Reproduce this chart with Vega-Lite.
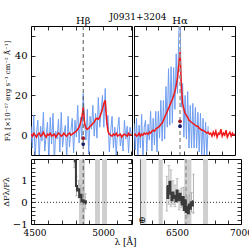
{
  "$schema": "https://vega.github.io/schema/vega-lite/v6.json",
  "padding": {"left": 1, "top": 12, "right": 5, "bottom": 0},
  "config": {
    "font": "DejaVu Serif",
    "view": {"stroke": "black", "strokeWidth": 1},
    "axis": {"grid": false, "domain": false, "tickColor": "black", "tickSize": -4, "tickWidth": 0.8, "labelFont": "DejaVu Serif", "labelFontSize": 10, "labelColor": "black", "labelPadding": 8, "labelFlush": false, "labelOverlap": false, "titleFont": "DejaVu Serif", "titleFontSize": 7, "titleFontWeight": "normal", "titleColor": "black", "titlePadding": 3},
    "concat": {"spacing": 0},
    "title": {"font": "DejaVu Serif", "fontSize": 9, "fontWeight": "normal", "color": "black"}
  },
  "title": {"text": "J0931+3204", "offset": -6, "anchor": "start", "frame": "bounds", "dx": 108},
  "datasets": {
    "blueL": [
      {"w":4475,"f":4.5},{"w":4485,"f":-6.5},{"w":4495,"f":10},{"w":4505,"f":-11},{"w":4515,"f":1},{"w":4525,"f":7.5},{"w":4535,"f":-12},{"w":4545,"f":4.5},{"w":4555,"f":-3},{"w":4565,"f":11.5},
      {"w":4575,"f":-8},{"w":4585,"f":0},{"w":4595,"f":6.5},{"w":4605,"f":-12},{"w":4615,"f":9},{"w":4625,"f":-4.5},{"w":4635,"f":11},{"w":4645,"f":-13.5},{"w":4655,"f":2},{"w":4665,"f":-2},
      {"w":4675,"f":8},{"w":4685,"f":-8.5},{"w":4695,"f":11.5},{"w":4705,"f":-6},{"w":4715,"f":1},{"w":4725,"f":5},{"w":4735,"f":-12.5},{"w":4745,"f":9.5},{"w":4755,"f":-6},{"w":4765,"f":2},
      {"w":4775,"f":8.5},{"w":4785,"f":-9},{"w":4795,"f":7.5},{"w":4805,"f":-1},{"w":4815,"f":15},{"w":4825,"f":-4},{"w":4835,"f":9},{"w":4845,"f":-2},{"w":4855,"f":21},{"w":4865,"f":7},
      {"w":4875,"f":-2.5},{"w":4885,"f":13},{"w":4895,"f":-9.5},{"w":4905,"f":9.5},{"w":4915,"f":3},{"w":4925,"f":15},{"w":4935,"f":-0.5},{"w":4945,"f":11},{"w":4955,"f":-1.5},{"w":4965,"f":19},
      {"w":4975,"f":4},{"w":4985,"f":12},{"w":4995,"f":20},{"w":5005,"f":4},{"w":5015,"f":23.5},{"w":5025,"f":5},{"w":5035,"f":10},{"w":5045,"f":-8.5},{"w":5055,"f":2},{"w":5065,"f":9.5},
      {"w":5075,"f":-6.5},{"w":5085,"f":4},{"w":5095,"f":-10},{"w":5105,"f":2.5},{"w":5115,"f":9},{"w":5125,"f":-5.5},{"w":5135,"f":0},{"w":5145,"f":-8},{"w":5155,"f":7.5},{"w":5165,"f":-2},
      {"w":5175,"f":4.5},{"w":5185,"f":-9},{"w":5195,"f":4},{"w":5205,"f":0.5}
    ],
    "redL": [
      {"w":4475,"f":0.5},{"w":4485,"f":-0.5},{"w":4495,"f":1},{"w":4505,"f":0},{"w":4515,"f":-1},{"w":4525,"f":0.5},{"w":4535,"f":1},{"w":4545,"f":-0.5},{"w":4555,"f":0},{"w":4565,"f":1.5},
      {"w":4575,"f":0},{"w":4585,"f":-1},{"w":4595,"f":0.5},{"w":4605,"f":0},{"w":4615,"f":1},{"w":4625,"f":-0.5},{"w":4635,"f":0},{"w":4645,"f":0.5},{"w":4655,"f":-1},{"w":4665,"f":0},
      {"w":4675,"f":1},{"w":4685,"f":0.5},{"w":4695,"f":-0.5},{"w":4705,"f":0},{"w":4715,"f":1},{"w":4725,"f":0},{"w":4735,"f":-0.5},{"w":4745,"f":0.5},{"w":4755,"f":1},{"w":4765,"f":0},
      {"w":4775,"f":0.5},{"w":4785,"f":1},{"w":4795,"f":1.5},{"w":4805,"f":2},{"w":4815,"f":3},{"w":4825,"f":4},{"w":4835,"f":6},{"w":4845,"f":9},{"w":4855,"f":14},{"w":4865,"f":6},
      {"w":4875,"f":3.5},{"w":4885,"f":3},{"w":4895,"f":3.5},{"w":4905,"f":4.5},{"w":4915,"f":5},{"w":4925,"f":6},{"w":4935,"f":6.5},{"w":4945,"f":8},{"w":4955,"f":8.5},{"w":4965,"f":8},
      {"w":4975,"f":9},{"w":4985,"f":11},{"w":4995,"f":13},{"w":5005,"f":16},{"w":5015,"f":17.5},{"w":5025,"f":8},{"w":5035,"f":2},{"w":5045,"f":0.5},{"w":5055,"f":0},{"w":5065,"f":-0.5},
      {"w":5075,"f":0.5},{"w":5085,"f":0},{"w":5095,"f":1},{"w":5105,"f":-0.5},{"w":5115,"f":0},{"w":5125,"f":0.5},{"w":5135,"f":-1},{"w":5145,"f":0},{"w":5155,"f":0.5},{"w":5165,"f":0},
      {"w":5175,"f":-0.5},{"w":5185,"f":1},{"w":5195,"f":0},{"w":5205,"f":0.5}
    ],
    "blueR": [
      {"w":6210,"f":6},{"w":6220,"f":-7.5},{"w":6230,"f":8.5},{"w":6240,"f":-11},{"w":6250,"f":5},{"w":6260,"f":-6.5},{"w":6270,"f":10.5},{"w":6280,"f":-12},{"w":6290,"f":4},{"w":6300,"f":7.5},
      {"w":6310,"f":-8},{"w":6320,"f":5.5},{"w":6330,"f":-2.5},{"w":6340,"f":12},{"w":6350,"f":-8},{"w":6360,"f":8.5},{"w":6370,"f":-5},{"w":6380,"f":12},{"w":6390,"f":-8.5},{"w":6400,"f":12},
      {"w":6410,"f":-1.5},{"w":6420,"f":17.5},{"w":6430,"f":-3},{"w":6440,"f":17.5},{"w":6450,"f":-2},{"w":6460,"f":24.5},{"w":6470,"f":4},{"w":6480,"f":33.5},{"w":6490,"f":5},{"w":6500,"f":34.5},
      {"w":6510,"f":6},{"w":6520,"f":34},{"w":6530,"f":13},{"w":6540,"f":41},{"w":6550,"f":21},{"w":6560,"f":50},{"w":6570,"f":67},{"w":6580,"f":14},{"w":6590,"f":26},{"w":6600,"f":-1},
      {"w":6610,"f":20},{"w":6620,"f":-2},{"w":6630,"f":22},{"w":6640,"f":-6.5},{"w":6650,"f":15},{"w":6660,"f":-6.5},{"w":6670,"f":16},{"w":6680,"f":-6.5},{"w":6690,"f":14},{"w":6700,"f":-6.5},
      {"w":6710,"f":11.5},{"w":6720,"f":-8.5},{"w":6730,"f":11},{"w":6740,"f":-10.5},{"w":6750,"f":8.5},{"w":6760,"f":-10},{"w":6770,"f":6.5},{"w":6780,"f":-10},{"w":6790,"f":4.5}
    ],
    "redR": [
      {"w":6210,"f":0},{"w":6220,"f":0.5},{"w":6230,"f":-0.5},{"w":6240,"f":0},{"w":6250,"f":1},{"w":6260,"f":-0.5},{"w":6270,"f":0.5},{"w":6280,"f":0},{"w":6290,"f":1},{"w":6300,"f":0.5},
      {"w":6310,"f":1},{"w":6320,"f":0.5},{"w":6330,"f":1.5},{"w":6340,"f":1},{"w":6350,"f":2},{"w":6360,"f":2.5},{"w":6370,"f":2},{"w":6380,"f":3},{"w":6390,"f":3.5},{"w":6400,"f":4},
      {"w":6410,"f":4.5},{"w":6420,"f":5.5},{"w":6430,"f":6},{"w":6440,"f":7.5},{"w":6450,"f":9},{"w":6460,"f":10.5},{"w":6470,"f":12},{"w":6480,"f":13.5},{"w":6490,"f":15},{"w":6500,"f":16.5},
      {"w":6510,"f":18},{"w":6520,"f":20},{"w":6530,"f":22},{"w":6540,"f":25},{"w":6550,"f":29},{"w":6560,"f":35},{"w":6570,"f":42},{"w":6580,"f":26},{"w":6590,"f":16},{"w":6600,"f":13},
      {"w":6610,"f":11},{"w":6620,"f":10},{"w":6630,"f":9},{"w":6640,"f":7.5},{"w":6650,"f":7},{"w":6660,"f":6.5},{"w":6670,"f":6},{"w":6680,"f":5.5},{"w":6690,"f":5},{"w":6700,"f":4.5},
      {"w":6710,"f":4.5},{"w":6720,"f":3.5},{"w":6730,"f":3},{"w":6740,"f":2.5},{"w":6750,"f":2.5},{"w":6760,"f":2},{"w":6770,"f":1.5},{"w":6780,"f":1},{"w":6790,"f":1.5},{"w":6800,"f":0.5},
      {"w":6810,"f":1},{"w":6820,"f":-0.5},{"w":6830,"f":1.5},{"w":6840,"f":0},{"w":6850,"f":2},{"w":6860,"f":-1},{"w":6870,"f":1},{"w":6880,"f":0.5},{"w":6890,"f":3},{"w":6900,"f":-0.5},
      {"w":6910,"f":1},{"w":6920,"f":0},{"w":6930,"f":2.5},{"w":6940,"f":-1},{"w":6950,"f":0.5},{"w":6960,"f":1.5},{"w":6970,"f":-0.5},{"w":6980,"f":1},{"w":6990,"f":0},{"w":7000,"f":0.5}
    ],
    "lines": [
      {"panel":"L","w":4855,"name":"Hβ"},
      {"panel":"R","w":6570,"name":"Hα"}
    ],
    "dots": [
      {"panel":"L","w":4855,"f":-1.5,"kind":"a"},
      {"panel":"L","w":4855,"f":-4.5,"kind":"b"},
      {"panel":"R","w":6570,"f":7,"kind":"a"},
      {"panel":"R","w":6570,"f":4.5,"kind":"b"}
    ],
    "bands": [
      {"panel":"L","w1":4824,"w2":4868,"kind":"mask"},
      {"panel":"L","w1":4941,"w2":4977,"kind":"mask"},
      {"panel":"L","w1":4992,"w2":5028,"kind":"mask"},
      {"panel":"R","w1":6214,"w2":6260,"kind":"telluric"},
      {"panel":"R","w1":6355,"w2":6388,"kind":"mask"},
      {"panel":"R","w1":6556,"w2":6612,"kind":"mask"},
      {"panel":"R","w1":6703,"w2":6742,"kind":"mask"}
    ],
    "resid": [
      {"panel":"L","w":4790,"v":1.95,"lo":1.6,"hi":2.3},
      {"panel":"L","w":4798,"v":1.9},
      {"panel":"L","w":4806,"v":0.75,"lo":0.3,"hi":1.2},
      {"panel":"L","w":4814,"v":0.55},
      {"panel":"L","w":4822,"v":0.6,"lo":0.2,"hi":1.0},
      {"panel":"L","w":4830,"v":0.25},
      {"panel":"L","w":4838,"v":0.35,"lo":-0.1,"hi":0.8},
      {"panel":"L","w":4846,"v":0.05},
      {"panel":"L","w":4854,"v":0.1,"lo":-0.4,"hi":0.6},
      {"panel":"L","w":4862,"v":0.0},
      {"panel":"L","w":4870,"v":0.05,"lo":-0.3,"hi":0.4},
      {"panel":"L","w":4878,"v":-0.05},
      {"panel":"R","w":6420,"v":0.75,"lo":-0.4,"hi":1.2},
      {"panel":"R","w":6428,"v":0.2},
      {"panel":"R","w":6436,"v":0.6,"lo":-0.1,"hi":1.7},
      {"panel":"R","w":6444,"v":0.95},
      {"panel":"R","w":6452,"v":0.4,"lo":-0.2,"hi":1.5},
      {"panel":"R","w":6460,"v":0.1},
      {"panel":"R","w":6468,"v":0.45,"lo":-0.1,"hi":1.0},
      {"panel":"R","w":6476,"v":0.2},
      {"panel":"R","w":6484,"v":0.3,"lo":-0.2,"hi":0.8},
      {"panel":"R","w":6492,"v":0.05},
      {"panel":"R","w":6500,"v":0.55,"lo":0.0,"hi":1.1},
      {"panel":"R","w":6508,"v":0.3},
      {"panel":"R","w":6516,"v":0.1,"lo":-0.35,"hi":0.55},
      {"panel":"R","w":6524,"v":0.4},
      {"panel":"R","w":6532,"v":0.2,"lo":-0.25,"hi":0.65},
      {"panel":"R","w":6540,"v":-0.1},
      {"panel":"R","w":6548,"v":0.25,"lo":-0.2,"hi":0.7},
      {"panel":"R","w":6556,"v":-0.35},
      {"panel":"R","w":6564,"v":0.1,"lo":-0.4,"hi":0.6},
      {"panel":"R","w":6572,"v":-0.45},
      {"panel":"R","w":6580,"v":-0.2,"lo":-0.65,"hi":0.25},
      {"panel":"R","w":6588,"v":-0.5},
      {"panel":"R","w":6596,"v":-0.1,"lo":-0.55,"hi":0.35},
      {"panel":"R","w":6604,"v":-0.3},
      {"panel":"R","w":6612,"v":0.0,"lo":-0.45,"hi":0.45},
      {"panel":"R","w":6620,"v":-0.15},
      {"panel":"R","w":6628,"v":0.05,"lo":-0.5,"hi":1.3}
    ],
    "symbols": [
      {"panel":"R","w":6226,"v":-0.8,"s":"⊕"}
    ]
  },
  "vconcat": [
    {
      "spacing": 0,
      "hconcat": [
        {
          "width": 101, "height": 129,
          "resolve": {"axis": {"x": "independent", "y": "independent"}},
          "layer": [
            {
              "data": {"name": "blueL"},
              "mark": {"type": "line", "color": "#6f9df0", "strokeWidth": 1, "clip": true},
              "encoding": {
                "x": {"field": "w", "type": "quantitative", "scale": {"domain": [4475, 5210], "nice": false, "zero": false},
                      "axis": {"orient": "bottom", "values": [4500,4600,4700,4800,4900,5000,5100,5200], "labels": false, "title": null}},
                "y": {"field": "f", "type": "quantitative", "scale": {"domain": [-10, 55], "nice": false, "zero": false},
                      "axis": {"orient": "left", "values": [0,10,20,30,40,50], "labelExpr": "datum.value % 20 === 0 ? datum.value : ''", "title": "Fλ [×10⁻¹⁷ erg s⁻¹ cm⁻² Å⁻¹]", "minExtent": 18, "maxExtent": 18}}
              }
            },
            {
              "data": {"name": "redL"},
              "mark": {"type": "line", "color": "#f01818", "strokeWidth": 1.5, "clip": true},
              "encoding": {
                "x": {"field": "w", "type": "quantitative", "scale": {"domain": [4475, 5210], "nice": false, "zero": false}, "axis": null},
                "y": {"field": "f", "type": "quantitative", "scale": {"domain": [-10, 55], "nice": false, "zero": false}, "axis": null}
              }
            },
            {
              "data": {"name": "lines"},
              "transform": [{"filter": "datum.panel === 'L'"}],
              "mark": {"type": "rule", "color": "#555555", "strokeDash": [4, 3], "strokeWidth": 1},
              "encoding": {
                "x": {"field": "w", "type": "quantitative", "scale": {"domain": [4475, 5210], "nice": false, "zero": false},
                      "axis": {"orient": "top", "values": [4500,4600,4700,4800,4900,5000,5100,5200], "labels": false, "title": null}}
              }
            },
            {
              "data": {"name": "lines"},
              "transform": [{"filter": "datum.panel === 'L'"}],
              "mark": {"type": "text", "fontSize": 10, "baseline": "alphabetic", "font": "DejaVu Serif"},
              "encoding": {
                "x": {"field": "w", "type": "quantitative", "scale": {"domain": [4475, 5210], "nice": false, "zero": false}, "axis": null},
                "y": {"datum": 56, "type": "quantitative", "scale": {"domain": [-10, 55], "nice": false, "zero": false}, "axis": null},
                "text": {"field": "name"}
              }
            },
            {
              "data": {"name": "dots"},
              "transform": [{"filter": "datum.panel === 'L' && datum.kind === 'a'"}],
              "mark": {"type": "circle", "size": 14, "opacity": 1, "color": "#9e1b22"},
              "encoding": {
                "x": {"field": "w", "type": "quantitative", "scale": {"domain": [4475, 5210], "nice": false, "zero": false}, "axis": null},
                "y": {"field": "f", "type": "quantitative", "scale": {"domain": [-10, 55], "nice": false, "zero": false},
                      "axis": {"orient": "right", "values": [0,10,20,30,40,50], "labels": false, "title": null, "minExtent": 0, "maxExtent": 0}}
              }
            },
            {
              "data": {"name": "dots"},
              "transform": [{"filter": "datum.panel === 'L' && datum.kind === 'b'"}],
              "mark": {"type": "circle", "size": 14, "opacity": 1, "color": "#121a66"},
              "encoding": {
                "x": {"field": "w", "type": "quantitative", "scale": {"domain": [4475, 5210], "nice": false, "zero": false}, "axis": null},
                "y": {"field": "f", "type": "quantitative", "scale": {"domain": [-10, 55], "nice": false, "zero": false}, "axis": null}
              }
            }
          ]
        },
        {
          "width": 101, "height": 129,
          "resolve": {"axis": {"x": "independent", "y": "independent"}},
          "layer": [
            {
              "data": {"name": "blueR"},
              "mark": {"type": "line", "color": "#6f9df0", "strokeWidth": 1, "clip": true},
              "encoding": {
                "x": {"field": "w", "type": "quantitative", "scale": {"domain": [6210, 7000], "nice": false, "zero": false},
                      "axis": {"orient": "bottom", "values": [6300,6400,6500,6600,6700,6800,6900], "labels": false, "title": null}},
                "y": {"field": "f", "type": "quantitative", "scale": {"domain": [-10, 55], "nice": false, "zero": false},
                      "axis": {"orient": "left", "values": [0,10,20,30,40,50], "labels": false, "title": null, "minExtent": 0, "maxExtent": 0}}
              }
            },
            {
              "data": {"name": "redR"},
              "mark": {"type": "line", "color": "#f01818", "strokeWidth": 1.5, "clip": true},
              "encoding": {
                "x": {"field": "w", "type": "quantitative", "scale": {"domain": [6210, 7000], "nice": false, "zero": false}, "axis": null},
                "y": {"field": "f", "type": "quantitative", "scale": {"domain": [-10, 55], "nice": false, "zero": false}, "axis": null}
              }
            },
            {
              "data": {"name": "lines"},
              "transform": [{"filter": "datum.panel === 'R'"}],
              "mark": {"type": "rule", "color": "#999999", "strokeDash": [4, 3], "strokeWidth": 1.5},
              "encoding": {
                "x": {"field": "w", "type": "quantitative", "scale": {"domain": [6210, 7000], "nice": false, "zero": false},
                      "axis": {"orient": "top", "values": [6300,6400,6500,6600,6700,6800,6900], "labels": false, "title": null}}
              }
            },
            {
              "data": {"name": "lines"},
              "transform": [{"filter": "datum.panel === 'R'"}],
              "mark": {"type": "text", "fontSize": 10, "baseline": "alphabetic", "font": "DejaVu Serif"},
              "encoding": {
                "x": {"field": "w", "type": "quantitative", "scale": {"domain": [6210, 7000], "nice": false, "zero": false}, "axis": null},
                "y": {"datum": 56, "type": "quantitative", "scale": {"domain": [-10, 55], "nice": false, "zero": false}, "axis": null},
                "text": {"field": "name"}
              }
            },
            {
              "data": {"name": "dots"},
              "transform": [{"filter": "datum.panel === 'R' && datum.kind === 'a'"}],
              "mark": {"type": "circle", "size": 14, "opacity": 1, "color": "#9e1b22"},
              "encoding": {
                "x": {"field": "w", "type": "quantitative", "scale": {"domain": [6210, 7000], "nice": false, "zero": false}, "axis": null},
                "y": {"field": "f", "type": "quantitative", "scale": {"domain": [-10, 55], "nice": false, "zero": false},
                      "axis": {"orient": "right", "values": [0,10,20,30,40,50], "labels": false, "title": null, "minExtent": 0, "maxExtent": 0}}
              }
            },
            {
              "data": {"name": "dots"},
              "transform": [{"filter": "datum.panel === 'R' && datum.kind === 'b'"}],
              "mark": {"type": "circle", "size": 14, "opacity": 1, "color": "#121a66"},
              "encoding": {
                "x": {"field": "w", "type": "quantitative", "scale": {"domain": [6210, 7000], "nice": false, "zero": false}, "axis": null},
                "y": {"field": "f", "type": "quantitative", "scale": {"domain": [-10, 55], "nice": false, "zero": false}, "axis": null}
              }
            }
          ]
        }
      ]
    },
    {
      "spacing": 0,
      "hconcat": [
        {
          "width": 101, "height": 65,
          "resolve": {"axis": {"x": "independent", "y": "independent"}},
          "layer": [
            {
              "data": {"name": "bands"},
              "transform": [{"filter": "datum.panel === 'L' && datum.kind === 'mask'"}],
              "mark": {"type": "rect", "clip": true, "color": "#cfcfcf"},
              "encoding": {
                "x": {"field": "w1", "type": "quantitative", "scale": {"domain": [4475, 5210], "nice": false, "zero": false}, "axis": null},
                "x2": {"field": "w2"}
              }
            },
            {
              "data": {"name": "lines"},
              "transform": [{"filter": "datum.panel === 'L'"}],
              "mark": {"type": "rule", "color": "#555555", "strokeDash": [4, 3], "strokeWidth": 1},
              "encoding": {
                "x": {"field": "w", "type": "quantitative", "scale": {"domain": [4475, 5210], "nice": false, "zero": false},
                      "axis": {"orient": "top", "values": [4500,4600,4700,4800,4900,5000,5100,5200], "labels": false, "title": null}}
              }
            },
            {
              "data": {"name": "lines"},
              "transform": [{"filter": "datum.panel === 'L'"}],
              "mark": {"type": "rule", "color": "#333333", "strokeDash": [1, 2], "strokeWidth": 1},
              "encoding": {
                "y": {"datum": 0, "type": "quantitative", "scale": {"domain": [-1, 2], "nice": false, "zero": false}, "axis": null}
              }
            },
            {
              "data": {"name": "resid"},
              "transform": [{"filter": "datum.panel === 'L'"}],
              "mark": {"type": "rule", "color": "#b0b0b0", "strokeWidth": 1, "clip": true},
              "encoding": {
                "x": {"field": "w", "type": "quantitative", "scale": {"domain": [4475, 5210], "nice": false, "zero": false}, "axis": null},
                "y": {"field": "lo", "type": "quantitative", "scale": {"domain": [-1, 2], "nice": false, "zero": false},
                      "axis": {"orient": "right", "values": [-0.8,-0.6,-0.4,-0.2,0,0.2,0.4,0.6,0.8,1,1.2,1.4,1.6,1.8], "labels": false, "title": null, "minExtent": 0, "maxExtent": 0}},
                "y2": {"field": "hi"}
              }
            },
            {
              "data": {"name": "resid"},
              "transform": [{"filter": "datum.panel === 'L'"}, {"fold": ["lo", "hi"], "as": ["end", "ev"]}],
              "mark": {"type": "tick", "orient": "horizontal", "size": 3, "thickness": 1, "color": "#b0b0b0", "clip": true},
              "encoding": {
                "x": {"field": "w", "type": "quantitative", "scale": {"domain": [4475, 5210], "nice": false, "zero": false}, "axis": null},
                "y": {"field": "ev", "type": "quantitative", "scale": {"domain": [-1, 2], "nice": false, "zero": false}, "axis": null}
              }
            },
            {
              "data": {"name": "resid"},
              "transform": [{"filter": "datum.panel === 'L'"}],
              "mark": {"type": "line", "color": "#3a3a3a", "strokeWidth": 2, "interpolate": "step", "clip": true},
              "encoding": {
                "x": {"field": "w", "type": "quantitative", "scale": {"domain": [4475, 5210], "nice": false, "zero": false},
                      "axis": {"orient": "bottom", "values": [4500,4600,4700,4800,4900,5000,5100,5200], "labelExpr": "datum.value % 500 === 0 ? datum.value : ''", "labelFontSize": 9, "title": "λ [Å]", "titleFontSize": 9, "titleX": 94, "titleY": 13, "titleAlign": "center"}},
                "y": {"field": "v", "type": "quantitative", "scale": {"domain": [-1, 2], "nice": false, "zero": false},
                      "axis": {"orient": "left", "values": [-1,-0.8,-0.6,-0.4,-0.2,0,0.2,0.4,0.6,0.8,1,1.2,1.4,1.6,1.8], "labelExpr": "datum.value === 0 ? '0' : datum.value === 1 ? '1' : datum.value === -1 ? '−1' : ''", "title": "ΔFλ/Fλ", "titleFontSize": 8, "minExtent": 18, "maxExtent": 18}}
              }
            }
          ]
        },
        {
          "width": 101, "height": 65,
          "resolve": {"axis": {"x": "independent", "y": "independent"}},
          "layer": [
            {
              "data": {"name": "bands"},
              "transform": [{"filter": "datum.panel === 'R' && datum.kind === 'mask'"}],
              "mark": {"type": "rect", "clip": true, "color": "#cfcfcf"},
              "encoding": {
                "x": {"field": "w1", "type": "quantitative", "scale": {"domain": [6210, 7000], "nice": false, "zero": false}, "axis": null},
                "x2": {"field": "w2"}
              }
            },
            {
              "data": {"name": "bands"},
              "transform": [{"filter": "datum.panel === 'R' && datum.kind === 'telluric'"}],
              "mark": {"type": "rect", "clip": true, "color": "#e4e4e4"},
              "encoding": {
                "x": {"field": "w1", "type": "quantitative", "scale": {"domain": [6210, 7000], "nice": false, "zero": false}, "axis": null},
                "x2": {"field": "w2"}
              }
            },
            {
              "data": {"name": "lines"},
              "transform": [{"filter": "datum.panel === 'R'"}],
              "mark": {"type": "rule", "color": "#999999", "strokeDash": [4, 3], "strokeWidth": 1.5},
              "encoding": {
                "x": {"field": "w", "type": "quantitative", "scale": {"domain": [6210, 7000], "nice": false, "zero": false},
                      "axis": {"orient": "top", "values": [6300,6400,6500,6600,6700,6800,6900], "labels": false, "title": null}}
              }
            },
            {
              "data": {"name": "lines"},
              "transform": [{"filter": "datum.panel === 'R'"}],
              "mark": {"type": "rule", "color": "#333333", "strokeDash": [1, 2], "strokeWidth": 1},
              "encoding": {
                "y": {"datum": 0, "type": "quantitative", "scale": {"domain": [-1, 2], "nice": false, "zero": false}, "axis": null}
              }
            },
            {
              "data": {"name": "resid"},
              "transform": [{"filter": "datum.panel === 'R'"}],
              "mark": {"type": "rule", "color": "#b0b0b0", "strokeWidth": 1, "clip": true},
              "encoding": {
                "x": {"field": "w", "type": "quantitative", "scale": {"domain": [6210, 7000], "nice": false, "zero": false}, "axis": null},
                "y": {"field": "lo", "type": "quantitative", "scale": {"domain": [-1, 2], "nice": false, "zero": false},
                      "axis": {"orient": "right", "values": [-0.8,-0.6,-0.4,-0.2,0,0.2,0.4,0.6,0.8,1,1.2,1.4,1.6,1.8], "labels": false, "title": null, "minExtent": 0, "maxExtent": 0}},
                "y2": {"field": "hi"}
              }
            },
            {
              "data": {"name": "resid"},
              "transform": [{"filter": "datum.panel === 'R'"}, {"fold": ["lo", "hi"], "as": ["end", "ev"]}],
              "mark": {"type": "tick", "orient": "horizontal", "size": 3, "thickness": 1, "color": "#b0b0b0", "clip": true},
              "encoding": {
                "x": {"field": "w", "type": "quantitative", "scale": {"domain": [6210, 7000], "nice": false, "zero": false}, "axis": null},
                "y": {"field": "ev", "type": "quantitative", "scale": {"domain": [-1, 2], "nice": false, "zero": false}, "axis": null}
              }
            },
            {
              "data": {"name": "symbols"},
              "transform": [{"filter": "datum.panel === 'R'"}],
              "mark": {"type": "text", "fontSize": 9, "font": "DejaVu Sans", "color": "black"},
              "encoding": {
                "x": {"field": "w", "type": "quantitative", "scale": {"domain": [6210, 7000], "nice": false, "zero": false}, "axis": null},
                "y": {"field": "v", "type": "quantitative", "scale": {"domain": [-1, 2], "nice": false, "zero": false}, "axis": null},
                "text": {"field": "s"}
              }
            },
            {
              "data": {"name": "resid"},
              "transform": [{"filter": "datum.panel === 'R'"}],
              "mark": {"type": "line", "color": "#3a3a3a", "strokeWidth": 2, "interpolate": "step", "clip": true},
              "encoding": {
                "x": {"field": "w", "type": "quantitative", "scale": {"domain": [6210, 7000], "nice": false, "zero": false},
                      "axis": {"orient": "bottom", "values": [6300,6400,6500,6600,6700,6800,6900,7000], "labelExpr": "datum.value % 500 === 0 ? datum.value : ''", "labelFontSize": 9, "title": null}},
                "y": {"field": "v", "type": "quantitative", "scale": {"domain": [-1, 2], "nice": false, "zero": false},
                      "axis": {"orient": "left", "values": [-0.8,-0.6,-0.4,-0.2,0,0.2,0.4,0.6,0.8,1,1.2,1.4,1.6,1.8], "labels": false, "title": null, "minExtent": 0, "maxExtent": 0}}
              }
            }
          ]
        }
      ]
    }
  ]
}
